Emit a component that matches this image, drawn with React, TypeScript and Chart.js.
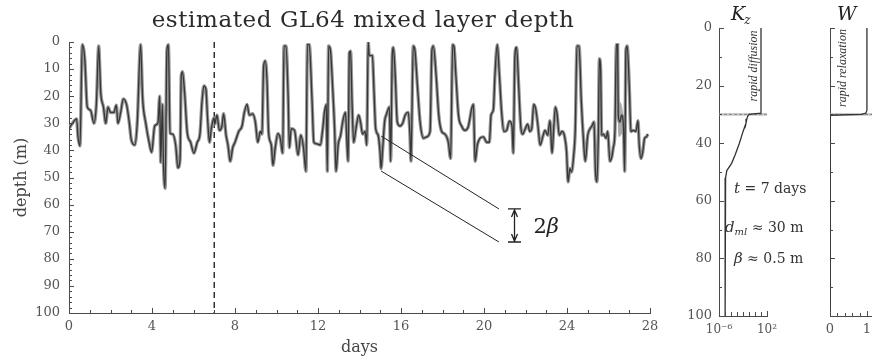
import React, { useEffect, useRef } from "react";
import { Chart, registerables } from "chart.js";
Chart.register(...registerables);

const SERIF = '"DejaVu Serif", "Liberation Serif", serif';
const AXIS = "#4a4a4a";
const TICKTXT = "#555555";

// ---- main series: estimated mixed layer depth ----
const days = [
  0.0, 0.12, 0.24, 0.37, 0.43, 0.53, 0.64, 0.76, 0.88, 1.04, 1.2, 1.32, 1.43, 1.53, 1.66, 1.77, 1.88, 2.0, 2.16, 2.28,
  2.36, 2.49, 2.62, 2.78, 2.91, 3.0, 3.17, 3.29, 3.45, 3.55, 3.7, 3.86, 3.98, 4.13, 4.29, 4.37, 4.42, 4.5, 4.55, 4.63,
  4.72, 4.79, 4.87, 5.0, 5.14, 5.25, 5.35, 5.41, 5.47, 5.57, 5.7, 5.86, 6.02, 6.18, 6.31, 6.41, 6.5, 6.6, 6.67, 6.77,
  6.86, 6.99, 7.02, 7.13, 7.25, 7.37, 7.45, 7.57, 7.66, 7.77, 7.89, 8.0, 8.18, 8.34, 8.45, 8.58, 8.69, 8.85, 8.98, 9.1,
  9.22, 9.3, 9.38, 9.46, 9.54, 9.62, 9.75, 9.83, 9.94, 10.07, 10.18, 10.3, 10.36, 10.46, 10.56, 10.62, 10.71, 10.87, 11.04, 11.17,
  11.3, 11.42, 11.49, 11.58, 11.71, 11.8, 11.95, 12.11, 12.23, 12.31, 12.4, 12.45, 12.51, 12.6, 12.7, 12.8, 12.87, 12.97, 13.09, 13.2,
  13.32, 13.4, 13.45, 13.51, 13.57, 13.64, 13.72, 13.83, 13.96, 14.05, 14.15, 14.27, 14.35, 14.42, 14.47, 14.62, 14.7, 14.78, 14.9, 14.99,
  15.04, 15.12, 15.21, 15.31, 15.44, 15.5, 15.58, 15.63, 15.72, 15.82, 15.95, 16.08, 16.2, 16.35, 16.43, 16.48, 16.59, 16.67, 16.79, 16.92,
  17.08, 17.24, 17.4, 17.49, 17.56, 17.69, 17.82, 17.96, 18.12, 18.28, 18.39, 18.49, 18.55, 18.65, 18.77, 18.92, 19.08, 19.24, 19.41, 19.49,
  19.57, 19.68, 19.81, 19.97, 20.13, 20.26, 20.34, 20.45, 20.53, 20.64, 20.74, 20.85, 20.96, 21.09, 21.22, 21.35, 21.41, 21.49, 21.57, 21.67,
  21.77, 21.86, 21.99, 22.1, 22.21, 22.3, 22.4, 22.5, 22.6, 22.71, 22.83, 22.94, 23.07, 23.18, 23.28, 23.36, 23.44, 23.52, 23.63, 23.76,
  23.87, 23.98, 24.05, 24.14, 24.22, 24.32, 24.4, 24.48, 24.58, 24.69, 24.78, 24.88, 25.0, 25.11, 25.2, 25.3, 25.37, 25.44, 25.51, 25.56,
  25.62, 25.67, 25.76, 25.88, 25.96, 26.07, 26.17, 26.23, 26.31, 26.38, 26.44, 26.47, 26.55, 26.63, 26.72, 26.78, 26.84, 26.9, 27.0, 27.08,
  27.19, 27.32, 27.42, 27.48, 27.57, 27.65, 27.74, 27.83, 27.9,
];
const depth = [
  32, 30.5, 29.2, 28.4, 34.7, 38.4, 1, 6.3, 24, 25.2, 30, 22.8, 1.5, 18.7, 24, 30, 24, 26, 26, 23.3,
  30, 26, 21, 23.3, 30, 36, 38, 29.7, 1, 21, 30, 37, 40.7, 31, 29.7, 20, 44.4, 23, 44.4, 54,
  3, 1, 33.7, 34, 38, 46.4, 43.5, 12.5, 11, 18.6, 33.5, 37, 41, 37, 34, 22, 16.2, 17.5, 27, 37,
  32, 28, 30.3, 27, 32.6, 31, 26.5, 34.4, 38, 44, 39, 37, 33, 31, 26, 23, 27, 26.5, 29.5, 37,
  33, 34, 8.9, 7, 14, 33.5, 38, 45.5, 39, 33.8, 35.5, 41, 1.5, 1.5, 20, 39, 32, 32.6, 41.7, 34.4,
  39, 47.7, 1, 1, 21, 37, 37.6, 38, 32, 26, 23, 47.7, 1.5, 3, 16, 32, 47.7, 38, 34.4, 29,
  26, 38, 44, 4, 3.4, 22, 37, 32, 27, 29.6, 34, 33, 38, 0, 5, 5, 18.5, 32, 34.4, 40.6,
  46.7, 39, 29.5, 26.5, 24, 44, 5, 2, 12, 29.5, 31, 30, 27, 26, 34, 44, 1.5, 3, 16, 29.5,
  35.5, 35, 33, 3, 1.5, 12, 27, 33, 34, 37, 43, 1, 1.5, 13, 27, 31, 32.6, 31.3, 24.5, 23,
  44, 38, 35.5, 35, 37, 37, 27, 25, 12, 1, 12, 26, 33, 32.6, 29.2, 31, 41, 5, 2, 16,
  31, 34, 32, 30.3, 33, 32, 23, 25, 31, 38, 35, 32.6, 34.4, 29, 41, 32, 24, 26.5, 34.4, 33,
  34.4, 40.6, 51.6, 46.7, 48, 42, 32, 1.5, 1.5, 22, 34.4, 44, 34.4, 32, 31, 29.5, 47.7, 51.6, 34.4, 6.2,
  10, 34.4, 34, 35.5, 33, 44, 42, 39, 33, 1, 1, 27, 29.5, 27, 31, 47.7, 3, 1.5, 16, 33,
  32.6, 33, 29, 38, 43, 40.6, 35.5, 35, 34,
];

// wider uncertainty band near day 26.5
const bandDays = [26.44, 26.48, 26.55, 26.63, 26.7, 26.74];
const bandTop = [24, 21, 22, 23, 26, 29];
const bandBottom = [31, 35, 35, 34, 34, 33];

const mainYTicks = [0, 10, 20, 30, 40, 50, 60, 70, 80, 90, 100];
const mainXTicks = [0, 4, 8, 12, 16, 20, 24, 28];
const markerDay = 7;

// 2-beta schematic (data units: day, depth)
const betaStartDay = 15.04;
const betaEndDay = 20.72;
const betaUpper = [34.7, 61.6];
const betaLower = [47.6, 73.8];
const betaArrowDay = 21.45;

// ---- K_z profile ----
const kzDepth = [0, 29.6, 30.0, 30.6, 31.5, 33, 36, 40, 44, 47, 49.5, 52, 70, 100];
const kzValue = [10, 10, 0.1, 0.063, 0.045, 0.032, 0.01, 0.0025, 5e-4, 1.26e-4, 2e-5, 1.26e-5, 1.1e-5, 1e-5];
const kzYTicks = [0, 20, 40, 60, 80, 100];
const kzXTicks = [1e-6, 1e2];
const kzXLabels = ["10\u207B\u2076", "10\u00B2"];
const kzXMinor = [1e-6, 1e-5, 1e-4, 1e-3, 1e-2, 1e-1, 1, 10, 100];

// ---- W profile ----
const wDepth = [0, 28.6, 29.6, 30.0, 30.3, 100];
const wValue = [1, 1, 0.97, 0.85, 0, 0];
const wXTicks = [0, 1];
const wXMinor = [0, 0.2, 0.4, 0.6, 0.8, 1.0, 1.2];

const mldRef = 30;
const betaHalf = 0.5;

const KZ_LEFT = 680;
const W_LEFT = 800;

function drawTicks(ctx: any, chart: any, xVals: number[], xLenF: (v: number) => number, yVals: number[], yLenF: (v: number) => number) {
  const { chartArea, scales } = chart;
  ctx.save();
  ctx.strokeStyle = AXIS;
  ctx.lineWidth = 1;
  ctx.beginPath();
  for (const v of xVals) {
    const px = Math.round(scales.x.getPixelForValue(v)) + 0.5;
    ctx.moveTo(px, chartArea.bottom);
    ctx.lineTo(px, chartArea.bottom - xLenF(v));
  }
  for (const v of yVals) {
    const py = Math.round(scales.y.getPixelForValue(v)) + 0.5;
    ctx.moveTo(chartArea.left, py);
    ctx.lineTo(chartArea.left + yLenF(v), py);
  }
  ctx.stroke();
  ctx.restore();
}

function range(a: number, b: number, s: number) {
  const out: number[] = [];
  for (let v = a; v <= b + 1e-9; v += s) out.push(Math.round(v * 1000) / 1000);
  return out;
}

const mainPlugin = {
  id: "mainDecor",
  beforeDatasetsDraw(chart: any) {
    const { ctx, chartArea, scales } = chart;
    const x = scales.x.getPixelForValue(markerDay);
    ctx.save();
    ctx.strokeStyle = "#333";
    ctx.lineWidth = 1.5;
    ctx.setLineDash([6, 4]);
    ctx.beginPath();
    ctx.moveTo(x, chartArea.top);
    ctx.lineTo(x, chartArea.bottom);
    ctx.stroke();
    ctx.restore();
  },
  afterDraw(chart: any) {
    const { ctx, chartArea, scales } = chart;
    const X = (v: number) => scales.x.getPixelForValue(v);
    const Y = (v: number) => scales.y.getPixelForValue(v);
    drawTicks(ctx, chart, range(0, 28, 1), (v) => (v % 4 === 0 ? 5 : 3), range(0, 100, 2), (v) => (v % 10 === 0 ? 5 : 3));
    ctx.save();
    // 2 beta schematic lines
    ctx.strokeStyle = "#222";
    ctx.lineWidth = 1;
    ctx.beginPath();
    ctx.moveTo(X(betaStartDay), Y(betaUpper[0]));
    ctx.lineTo(X(betaEndDay), Y(betaUpper[1]));
    ctx.moveTo(X(betaStartDay), Y(betaLower[0]));
    ctx.lineTo(X(betaEndDay), Y(betaLower[1]));
    ctx.stroke();
    const ax = Math.round(X(betaArrowDay)) + 0.5;
    const y1 = Y(betaUpper[1]);
    const y2 = Y(betaLower[1]);
    ctx.lineWidth = 1.3;
    ctx.beginPath();
    ctx.moveTo(ax - 6.5, y1);
    ctx.lineTo(ax + 6.5, y1);
    ctx.moveTo(ax - 6.5, y2);
    ctx.lineTo(ax + 6.5, y2);
    ctx.moveTo(ax, y1 + 1);
    ctx.lineTo(ax, y2 - 1);
    ctx.moveTo(ax - 3, y1 + 8);
    ctx.lineTo(ax, y1 + 1);
    ctx.lineTo(ax + 3, y1 + 8);
    ctx.moveTo(ax - 3, y2 - 8);
    ctx.lineTo(ax, y2 - 1);
    ctx.lineTo(ax + 3, y2 - 8);
    ctx.stroke();
    ctx.fillStyle = "#222";
    ctx.textBaseline = "alphabetic";
    ctx.textAlign = "left";
    ctx.font = `21px ${SERIF}`;
    const tx = ax + 19;
    const ty = (y1 + y2) / 2 + 8;
    ctx.fillText("2", tx, ty);
    const w2 = ctx.measureText("2").width;
    ctx.font = `italic 21px ${SERIF}`;
    ctx.fillText("\u03B2", tx + w2, ty);
    // titles
    ctx.fillStyle = "#2a2a2a";
    ctx.textAlign = "center";
    ctx.font = `23px ${SERIF}`;
    (ctx as any).letterSpacing = "0.6px";
    ctx.fillText("estimated GL64 mixed layer depth", 363, 27);
    (ctx as any).letterSpacing = "0px";
    ctx.fillStyle = "#444";
    ctx.font = `16px ${SERIF}`;
    ctx.fillText("days", (chartArea.left + chartArea.right) / 2, 352);
    ctx.save();
    ctx.translate(26, (chartArea.top + chartArea.bottom) / 2);
    ctx.rotate(-Math.PI / 2);
    ctx.fillText("depth (m)", 0, 0);
    ctx.restore();
    ctx.restore();
  },
};

function refBand(chart: any) {
  const { ctx, chartArea, scales } = chart;
  const yTop = scales.y.getPixelForValue(mldRef - betaHalf);
  const yBot = scales.y.getPixelForValue(mldRef + betaHalf);
  const yMid = scales.y.getPixelForValue(mldRef);
  ctx.save();
  ctx.fillStyle = "rgba(170,170,170,0.6)";
  ctx.fillRect(chartArea.left, yTop, chartArea.right - chartArea.left, yBot - yTop);
  ctx.strokeStyle = "#888";
  ctx.lineWidth = 1;
  ctx.setLineDash([3, 2]);
  ctx.beginPath();
  ctx.moveTo(chartArea.left, yMid);
  ctx.lineTo(chartArea.right, yMid);
  ctx.stroke();
  ctx.restore();
}

const kzPlugin = {
  id: "kzDecor",
  beforeDatasetsDraw(chart: any) {
    refBand(chart);
  },
  afterDraw(chart: any) {
    const { ctx } = chart;
    drawTicks(ctx, chart, kzXMinor, (v) => (v === 1e-6 || v === 100 ? 5 : 4), range(0, 100, 10), (v) => (v % 20 === 0 ? 5 : 3));
    const o = KZ_LEFT;
    ctx.save();
    ctx.fillStyle = "#222";
    ctx.textBaseline = "alphabetic";
    ctx.textAlign = "left";
    // title K_z
    ctx.font = `italic 19px ${SERIF}`;
    ctx.fillText("K", 731 - o, 20);
    const kw = ctx.measureText("K").width;
    ctx.font = `italic 12px ${SERIF}`;
    ctx.fillText("z", 731 - o + kw - 1, 24);
    // rotated label
    ctx.save();
    ctx.translate(754 - o, 66);
    ctx.rotate(-Math.PI / 2);
    ctx.textAlign = "center";
    ctx.textBaseline = "middle";
    ctx.font = `italic 12px "Liberation Serif", serif`;
    ctx.fillStyle = "#333";
    ctx.fillText("rapid diffusion", 0, 0);
    ctx.restore();
    // annotations
    ctx.fillStyle = "#333";
    ctx.font = `italic 15px ${SERIF}`;
    ctx.fillText("t", 734 - o, 193);
    let w = ctx.measureText("t").width;
    ctx.font = `14px ${SERIF}`;
    ctx.fillText(" = 7 days", 734 - o + w, 193);

    ctx.font = `italic 15px ${SERIF}`;
    ctx.fillText("d", 725 - o, 232);
    w = ctx.measureText("d").width;
    ctx.font = `italic 10px ${SERIF}`;
    ctx.fillText("ml", 725 - o + w, 235);
    const w2 = ctx.measureText("ml").width;
    ctx.font = `14px ${SERIF}`;
    ctx.fillText(" \u2248 30 m", 725 - o + w + w2, 232);

    ctx.font = `italic 15px ${SERIF}`;
    ctx.fillText("\u03B2", 734 - o, 263);
    w = ctx.measureText("\u03B2").width;
    ctx.font = `14px ${SERIF}`;
    ctx.fillText(" \u2248 0.5 m", 734 - o + w, 263);
    ctx.restore();
  },
};

const wPlugin = {
  id: "wDecor",
  beforeDatasetsDraw(chart: any) {
    refBand(chart);
  },
  afterDraw(chart: any) {
    const { ctx } = chart;
    drawTicks(ctx, chart, wXMinor, (v) => (Math.abs(v) < 1e-9 || Math.abs(v - 1) < 1e-9 ? 5 : 3), range(0, 100, 10), (v) => (v % 20 === 0 ? 5 : 3));
    const o = W_LEFT;
    ctx.save();
    ctx.fillStyle = "#222";
    ctx.textBaseline = "alphabetic";
    ctx.textAlign = "left";
    ctx.font = `italic 19px ${SERIF}`;
    ctx.fillText("W", 837 - o, 20);
    ctx.save();
    ctx.translate(843 - o, 68);
    ctx.rotate(-Math.PI / 2);
    ctx.textAlign = "center";
    ctx.textBaseline = "middle";
    ctx.font = `italic 12px "Liberation Serif", serif`;
    ctx.fillStyle = "#333";
    ctx.fillText("rapid relaxation", 0, 0);
    ctx.restore();
    ctx.restore();
  },
};

function baseScale(extra: any) {
  return {
    grid: { display: false, drawTicks: false },
    border: { display: true, color: AXIS, width: 1 },
    ...extra,
  };
}

export default function App() {
  const mainRef = useRef<HTMLCanvasElement>(null);
  const kzRef = useRef<HTMLCanvasElement>(null);
  const wRef = useRef<HTMLCanvasElement>(null);

  useEffect(() => {
    const series = days.map((d, i) => ({ x: d, y: depth[i] }));
    const tickFont = { family: SERIF, size: 13 };

    const main = new Chart(mainRef.current as HTMLCanvasElement, {
      type: "scatter",
      data: {
        datasets: [
          { data: series, showLine: true, cubicInterpolationMode: "monotone", borderColor: "#363636", borderWidth: 1.3, pointRadius: 0, order: 0 } as any,
          { data: series, showLine: true, cubicInterpolationMode: "monotone", borderColor: "#979797", borderWidth: 3.4, pointRadius: 0, order: 1 } as any,
          { data: bandDays.map((d, i) => ({ x: d, y: bandTop[i] })), showLine: true, borderWidth: 0, pointRadius: 0, fill: false, order: 2 } as any,
          { data: bandDays.map((d, i) => ({ x: d, y: bandBottom[i] })), showLine: true, borderWidth: 0, pointRadius: 0, fill: "-1", backgroundColor: "rgba(150,150,150,0.8)", order: 3 } as any,
        ],
      },
      options: {
        animation: false,
        responsive: false,
        devicePixelRatio: 1,
        layout: { padding: { top: 42, right: 30, left: 0, bottom: 0 } },
        plugins: { legend: { display: false }, tooltip: { enabled: false } },
        scales: {
          x: baseScale({
            type: "linear",
            min: 0,
            max: 28,
            ticks: { font: tickFont, color: TICKTXT, padding: 6, maxRotation: 0, autoSkip: false },
            afterBuildTicks: (s: any) => { s.ticks = mainXTicks.map((v) => ({ value: v })); },
            afterFit: (s: any) => { s.height = 49; },
          }),
          y: baseScale({
            type: "linear",
            reverse: true,
            min: 0,
            max: 100,
            ticks: { font: tickFont, color: TICKTXT, padding: 9, autoSkip: false },
            afterBuildTicks: (s: any) => { s.ticks = mainYTicks.map((v) => ({ value: v })); },
            afterFit: (s: any) => { s.width = 69; },
          }),
        },
      } as any,
      plugins: [mainPlugin],
    });

    const kz = new Chart(kzRef.current as HTMLCanvasElement, {
      type: "scatter",
      data: {
        datasets: [
          { data: kzDepth.map((d, i) => ({ x: kzValue[i], y: d })), showLine: true, borderColor: "#333", borderWidth: 1.3, pointRadius: 0 } as any,
        ],
      },
      options: {
        animation: false,
        responsive: false,
        devicePixelRatio: 1,
        layout: { padding: { top: 28, right: 63, left: 0, bottom: 0 } },
        plugins: { legend: { display: false }, tooltip: { enabled: false } },
        scales: {
          x: baseScale({
            type: "logarithmic",
            min: 1e-6,
            max: 1e2,
            ticks: {
              font: { family: SERIF, size: 12 },
              color: TICKTXT,
              padding: 7,
              maxRotation: 0,
              autoSkip: false,
              callback: (v: any) => {
                const i = kzXTicks.findIndex((t) => Math.abs(Math.log10(t) - Math.log10(v)) < 1e-6);
                return i >= 0 ? kzXLabels[i] : "";
              },
            },
            afterBuildTicks: (s: any) => { s.ticks = kzXTicks.map((v) => ({ value: v })); },
            afterFit: (s: any) => { s.height = 46; },
          }),
          y: baseScale({
            type: "linear",
            reverse: true,
            min: 0,
            max: 100,
            ticks: { font: tickFont, color: TICKTXT, padding: 7, autoSkip: false },
            afterBuildTicks: (s: any) => { s.ticks = kzYTicks.map((v) => ({ value: v })); },
            afterFit: (s: any) => { s.width = 39; },
          }),
        },
      } as any,
      plugins: [kzPlugin],
    });

    const w = new Chart(wRef.current as HTMLCanvasElement, {
      type: "scatter",
      data: {
        datasets: [
          { data: wDepth.map((d, i) => ({ x: wValue[i], y: d })), showLine: true, borderColor: "#333", borderWidth: 1.3, pointRadius: 0 } as any,
        ],
      },
      options: {
        animation: false,
        responsive: false,
        devicePixelRatio: 1,
        layout: { padding: { top: 28, right: 42, left: 0, bottom: 0 } },
        plugins: { legend: { display: false }, tooltip: { enabled: false } },
        scales: {
          x: baseScale({
            type: "linear",
            min: 0,
            max: 1.3,
            ticks: { font: tickFont, color: TICKTXT, padding: 6, maxRotation: 0, autoSkip: false },
            afterBuildTicks: (s: any) => { s.ticks = wXTicks.map((v) => ({ value: v })); },
            afterFit: (s: any) => { s.height = 46; },
          }),
          y: baseScale({
            type: "linear",
            reverse: true,
            min: 0,
            max: 100,
            ticks: { display: false },
            afterBuildTicks: (s: any) => { s.ticks = kzYTicks.map((v) => ({ value: v })); },
            afterFit: (s: any) => { s.width = 30; },
          }),
        },
      } as any,
      plugins: [wPlugin],
    });

    return () => {
      main.destroy();
      kz.destroy();
      w.destroy();
    };
  }, []);

  return (
    <div style={{ position: "fixed", left: 0, top: 0, width: 872, height: 362, overflow: "hidden", background: "#fff" }}>
      <canvas ref={mainRef} width={680} height={362} style={{ position: "absolute", left: 0, top: 0 }} />
      <canvas ref={kzRef} width={150} height={362} style={{ position: "absolute", left: KZ_LEFT, top: 0 }} />
      <canvas ref={wRef} width={120} height={362} style={{ position: "absolute", left: W_LEFT, top: 0 }} />
    </div>
  );
}
